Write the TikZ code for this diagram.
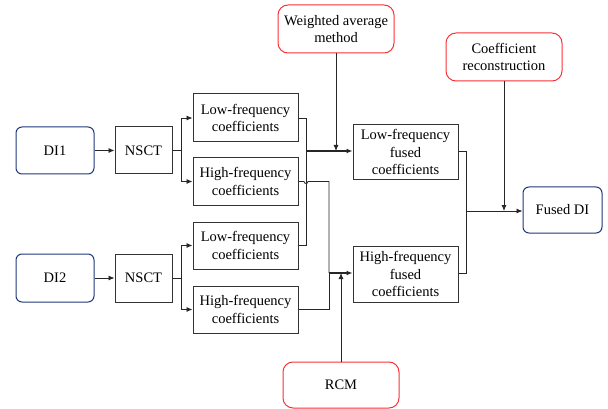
\documentclass[tikz,border=0pt]{standalone}
\usepackage{fontspec}
\setmainfont{Liberation Serif}
\usetikzlibrary{arrows.meta}
\definecolor{navy}{RGB}{31,56,120}
\definecolor{redc}{RGB}{250,50,55}
\begin{document}
\begin{tikzpicture}[x=1pt,y=-1pt,
 box/.style={draw=black!80, line width=1pt, fill=white, align=center, inner sep=0pt, font=\fontsize{14.5}{17.3}\selectfont},
 blu/.style={box, draw=navy, rounded corners=6pt},
 redb/.style={box, draw=redc, rounded corners=10pt},
 conn/.style={draw=black!85, line width=0.8pt},
 thk/.style={draw=black!85, line width=1.4pt},
 arr/.style={-{Latex[length=6pt,width=5pt]}},
]
\useasboundingbox (0,0) rectangle (608,409);
% nodes
\node[blu, minimum width=78pt, minimum height=47pt] (DI1) at (55,150.5) {DI1};
\node[box, minimum width=57pt, minimum height=47pt] (N1) at (143.5,150.5) {NSCT};
\node[blu, minimum width=78pt, minimum height=48pt] (DI2) at (55,278) {DI2};
\node[box, minimum width=57pt, minimum height=48pt] (N2) at (143.5,278) {NSCT};
\node[box, minimum width=105pt, minimum height=48pt] (LF1) at (245.5,118) {Low-frequency\\coefficients};
\node[box, minimum width=105pt, minimum height=47pt] (HF1) at (245.5,181.5) {High-frequency\\coefficients};
\node[box, minimum width=105pt, minimum height=47pt] (LF2) at (245.5,245.5) {Low-frequency\\coefficients};
\node[box, minimum width=105pt, minimum height=47pt] (HF2) at (245.5,309.5) {High-frequency\\coefficients};
\node[box, minimum width=105pt, minimum height=55pt] (LFF) at (405.5,152) {Low-frequency\\fused\\coefficients};
\node[box, minimum width=105pt, minimum height=56pt] (HFF) at (405.5,274) {High-frequency\\fused\\coefficients};
\node[redb, minimum width=116pt, minimum height=48pt] (WA) at (336,29) {Weighted average\\method};
\node[redb, minimum width=116pt, minimum height=48pt] (CR) at (504,57) {Coefficient\\reconstruction};
\node[blu, minimum width=79pt, minimum height=46pt] (FDI) at (562.5,210) {Fused DI};
\node[redb, minimum width=116pt, minimum height=46pt] (RCM) at (341,385) {RCM};
% junction coordinates
\coordinate (J1) at (306,151);
\coordinate (J2) at (329,273);
\coordinate (J3) at (466,211);
% connectors
\draw[conn,arr] (DI1) -- (N1);
\draw[conn,arr] (DI2) -- (N2);
\draw[conn,arr] (N1.east) -- (181,150.5) |- (LF1.west);
\draw[conn,arr] (N1.east) -- (181,150.5) |- (HF1.west);
\draw[conn,arr] (N2.east) -- (181,278) |- (LF2.west);
\draw[conn,arr] (N2.east) -- (181,278) |- (HF2.west);
% low frequency merge
\draw[conn] (LF1.east) -| (J1);
\draw[conn] (LF2.east) -| (J1);
\draw[thk,arr] (J1) -- (J1 -| LFF.west);
\draw[conn,arr] (WA.south) -- (WA.south |- J1);
% high frequency merge, with a small hop over the vertical line
\draw[conn] (HF1.east) -- (304,181.5) arc[start angle=180,end angle=0,radius=2] -| (J2);
\draw[conn] (HF2.east) -| (J2);
\draw[thk,arr] (J2) -- (J2 -| HFF.west);
\draw[conn,arr] (RCM.north) -- (RCM.north |- J2);
% fused merge
\draw[conn] (LFF.east |- J1) -| (J3);
\draw[conn] (HFF.east |- J2) -| (J3);
\draw[conn,arr] (J3) -- (J3 -| FDI.west);
\draw[conn,arr] (CR.south) -- (CR.south |- J3);
\end{tikzpicture}
\end{document}
